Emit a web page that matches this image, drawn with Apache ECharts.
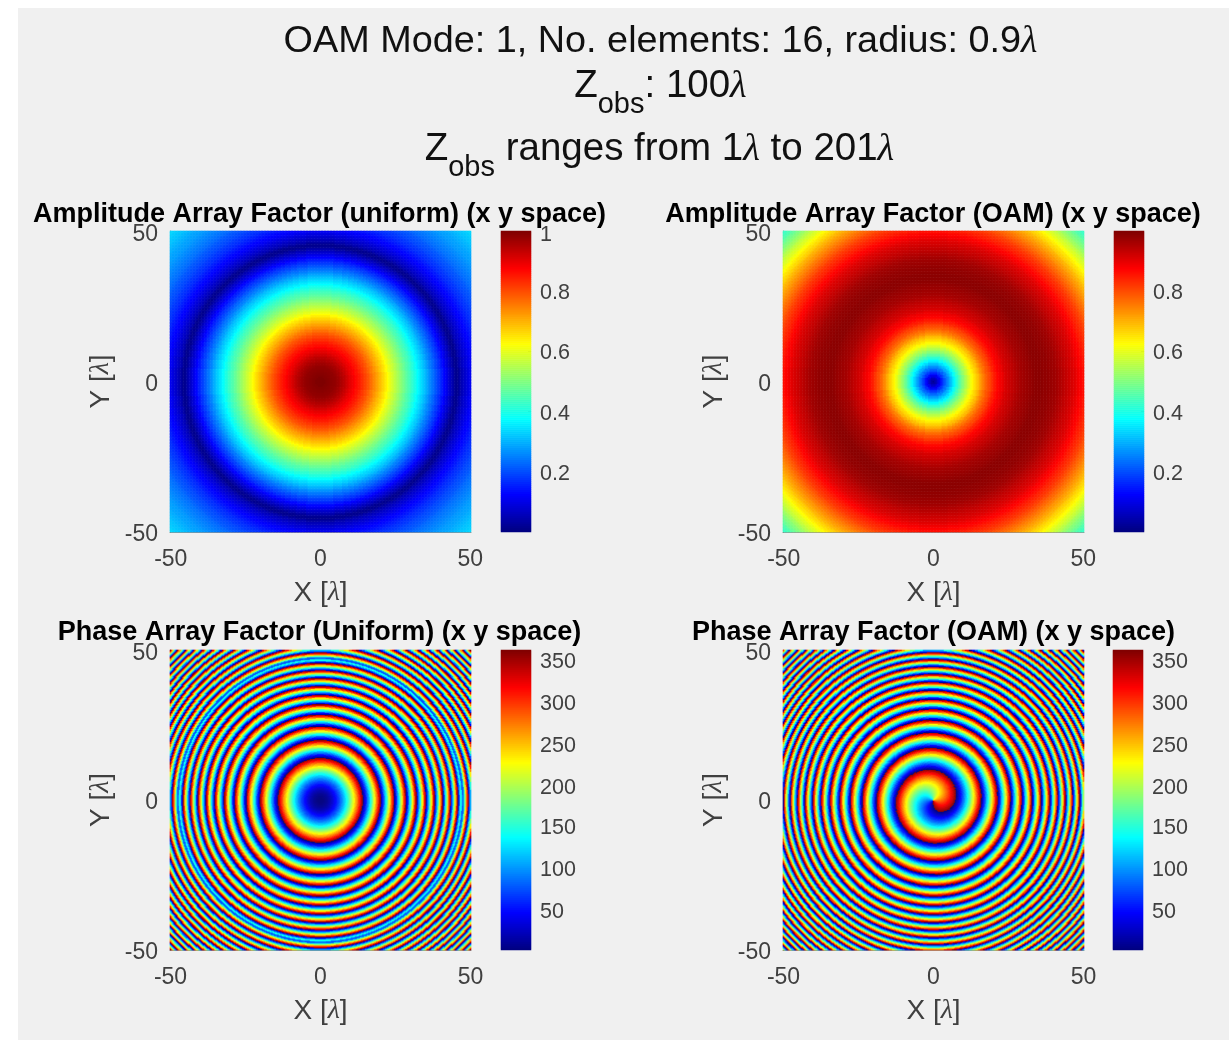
<!DOCTYPE html>
<html><head><meta charset="utf-8">
<style>html,body{margin:0;padding:0;background:#fff}#c{width:1229px;height:1040px;filter:blur(0.6px)}</style>
<script src="https://cdn.jsdelivr.net/npm/echarts@6/dist/echarts.min.js"></script></head>
<body><div id="c"></div>
<script>
// Amplitude estimated from the colours along a radius, one entry per half lambda, r = 0..71
const ampUniform=[1,1,1,1,.995,.993,.99,.988,.985,.983,
.98,.975,.97,.963,.955,.948,.94,.93,.92,.91,
.9,.893,.885,.875,.865,.858,.85,.84,.83,.82,
.81,.8,.79,.778,.765,.753,.74,.728,.715,.703,
.69,.678,.665,.653,.64,.625,.61,.598,.585,.573,
.56,.548,.535,.523,.51,.498,.485,.473,.46,.45,
.44,.428,.415,.403,.39,.375,.36,.348,.335,.323,
.31,.295,.28,.265,.25,.238,.225,.21,.195,.183,
.17,.155,.14,.125,.11,.095,.08,.065,.05,.035,
.02,.015,.02,.035,.05,.06,.07,.08,.09,.1,
.11,.118,.125,.133,.14,.148,.155,.163,.17,.175,
.18,.188,.195,.2,.205,.21,.215,.223,.23,.235,
.24,.245,.25,.255,.26,.265,.27,.275,.28,.283,
.285,.29,.295,.3,.305,.31,.315,.318,.32,.325,
.33,.335,.34];
const ampOam=[.02,.04,.06,.085,.11,.14,.17,.195,.22,.245,
.27,.295,.32,.345,.37,.395,.42,.445,.47,.49,
.51,.53,.55,.57,.59,.61,.63,.645,.66,.675,
.69,.71,.73,.745,.76,.775,.79,.8,.81,.825,
.84,.85,.86,.87,.88,.885,.89,.9,.91,.915,
.92,.925,.93,.935,.94,.945,.95,.955,.96,.963,
.965,.968,.97,.973,.975,.978,.98,.983,.985,.985,
.985,.985,.985,.983,.98,.98,.98,.978,.975,.973,
.97,.968,.965,.96,.955,.95,.945,.94,.935,.93,
.925,.92,.915,.91,.905,.898,.89,.883,.875,.868,
.86,.853,.845,.838,.83,.823,.815,.805,.795,.785,
.775,.765,.755,.745,.735,.725,.715,.705,.695,.683,
.67,.66,.65,.638,.625,.613,.6,.59,.58,.568,
.555,.543,.53,.518,.505,.495,.485,.473,.46,.45,
.44,.43,.42];
// Phase in degrees, one entry per quarter lambda. Shared part r = 0..46.75 (ring spacing checked against the picture)
const phaseInner=[0,0,0,1,2,3,4,6,7,9,11,14,16,19,22,25,29,33,36,41,45,50,54,60,65,70,76,82,88,95,101,108,115,122,130,138,146,154,162,171,180,189,198,208,217,227,237,248,258,269,280,291,303,315,327,339,351,4,17,30,43,56,70,84,98,112,127,142,157,172,187,203,219,235,251,267,284,301,318,335,353,11,29,47,65,84,103,122,141,160,180,200,220,240,261,281,302,323,345,6,28,50,72,94,117,140,163,186,209,233,257,281,305,329,354,18,43,68,94,119,145,171,197,223,250,277,304,331,358,26,54,82,110,138,166,195,224,253,282,311,341,11,41,71,102,132,163,194,225,256,288,320,352,24,56,88,121,154,187,220,253,286,320,354,28,62,97,131,166,201,236,271,307,343,19,55,91,127,164,200,237,274,311,349,26,64,102,140];
// r = 47..71: the uniform map has a thin blue ring near 47 lambda and its rings are half a period out beyond it
const phaseOuterUniform=[140,90,75,90,152,191,230,270,309,349,28,68,109,149,190,231,272,313,354,35,76,118,160,202,244,286,328,11,54,96,139,183,226,269,313,357,41,85,129,173,218,262,307,352,37,82,128,173,219,265,311,357,43,89,136,183,229,276,323,10,58,105,153,201,249,297,345,33,82,130,179,228,277,326,15,64,114,164,213,263,313,3,54,104,155,205,256,307,358,49,101,152,204,255,307,359,51];
const phaseOuterOam=[178,216,254,293,332,11,50,90,129,169,208,248,289,329,10,51,92,133,174,215,256,298,340,22,64,106,148,191,234,276,319,3,46,89,133,177,221,265,309,353,38,82,127,172,217,262,308,353,39,85,131,177,223,269,316,3,49,96,143,190,238,285,333,21,69,117,165,213,262,310,359,48,97,146,195,244,294,344,33,83,133,183,234,284,335,25,76,127,178,229,281,332,24,75,127,179,231];
const spiralOffsetDeg=-95;
const axisTicks=[-50,0,50];
const cbAmpTicksA=[.2,.4,.6,.8,1], cbAmpTicksB=[.2,.4,.6,.8], cbPhaseTicks=[50,100,150,200,250,300,350];
const titles=['Amplitude Array Factor (uniform) (x y space)','Amplitude Array Factor (OAM) (x y space)','Phase Array Factor (Uniform) (x y space)','Phase Array Factor (OAM) (x y space)'];
const jet=['#00007f','#0000ff','#007fff','#00ffff','#7fff7f','#ffff00','#ff7f00','#ff0000','#7f0000'];

function field(n,fn){const d=[];for(let j=0;j<n;j++)for(let i=0;i<n;i++){const x=-50+100*i/(n-1),y=-50+100*j/(n-1);d.push([i,j,fn(x,y)]);}return d;}
const A=201,P=301;
const near=(arr,r,per)=>arr[Math.min(arr.length-1,Math.round(r*per))];
const phaseUniform=phaseInner.concat(phaseOuterUniform), phaseOam=phaseInner.concat(phaseOuterOam);
const fields=[
 field(A,(x,y)=>near(ampUniform,Math.hypot(x,y),2)),
 field(A,(x,y)=>near(ampOam,Math.hypot(x,y),2)),
 field(P,(x,y)=>near(phaseUniform,Math.hypot(x,y),4)),
 field(P,(x,y)=>{let v=near(phaseOam,Math.hypot(x,y),4)+spiralOffsetDeg-Math.atan2(y,x)*180/Math.PI;v%=360;return v<0?v+360:v;})
];
const ranges=[[0,1],[0,.998],[1,361],[1,361]];
const cbTicks=[cbAmpTicksA,cbAmpTicksB,cbPhaseTicks,cbPhaseTicks];
const pos=[[170,231,301,301,501,30],[783,231,301,301,1114,30],[170,650,301,300,501,30],[783,650,301,300,1113,30]];
const titleX=[319.5,933,319.5,933.5],titleY=[201,201,619,619];
const grid=[],xAxis=[],yAxis=[],series=[],visualMap=[],title=[];
const axisFont='"Liberation Sans",Arial,sans-serif';
const gray='#404040';
const lam={fontFamily:'"Liberation Serif",serif',fontStyle:'italic'};
pos.forEach((p,k)=>{
 const n=k<2?A:P, cats=Array.from({length:n},(_,i)=>String(Math.round((-50+100*i/(n-1))*10)/10));
 const ix=(i,v)=>axisTicks.includes(Number(v));
 grid.push({left:p[0],top:p[1],width:p[2],height:p[3]});
 const base={type:'category',data:cats,boundaryGap:true,axisLine:{show:true,lineStyle:{color:'#555',width:1,opacity:.6}},axisTick:{show:false},splitLine:{show:false},
   axisLabel:{interval:ix,color:gray,fontSize:23,fontFamily:axisFont,margin:16,hideOverlap:false,showMinLabel:true,showMaxLabel:true},nameLocation:'middle'};
 const nameRich={l:Object.assign({fontSize:28,color:gray},lam),t:{fontSize:28,color:gray,fontFamily:axisFont}};
 xAxis.push(Object.assign({},base,{gridIndex:2*k,name:'{t|X [}{l|λ}{t|]}',nameGap:47,nameTextStyle:{rich:nameRich}}));
 yAxis.push(Object.assign({},base,{gridIndex:2*k,name:'{t|Y [}{l|λ}{t|]}',nameGap:55,nameRotate:90,nameTextStyle:{rich:nameRich},axisLabel:Object.assign({},base.axisLabel,{margin:12,verticalAlign:'top',lineHeight:6})}));
 series.push({type:'heatmap',xAxisIndex:2*k,yAxisIndex:2*k,data:fields[k],silent:true,progressive:0,animation:false,emphasis:{disabled:true}});
 visualMap.push({show:false,seriesIndex:2*k,min:ranges[k][0],max:ranges[k][1],dimension:2,inRange:{color:jet}});
 const N=150, vals=Array.from({length:N},(_,i)=>ranges[k][0]+(ranges[k][1]-ranges[k][0])*(i+.5)/N);
 const labelFor=new Map(cbTicks[k].map(t=>[Math.min(N-1,Math.round((t-ranges[k][0])/(ranges[k][1]-ranges[k][0])*N-.5)),t]));
 grid.push({left:p[4],top:p[1],width:p[5],height:p[3]});
 xAxis.push({type:'category',gridIndex:2*k+1,data:['c'],show:false});
 yAxis.push({type:'category',gridIndex:2*k+1,data:vals.map((v,i)=>String(i)),position:'right',
   axisLine:{show:false},splitLine:{show:false},
   axisTick:{show:true,inside:true,length:3,interval:(i)=>labelFor.has(i),lineStyle:{color:'#333'}},
   axisLabel:{interval:(i)=>labelFor.has(i),formatter:(v)=>{const t=labelFor.get(Number(v));return t===undefined?'':String(t);},color:gray,fontSize:21.5,fontFamily:axisFont,margin:9,verticalAlign:'top',lineHeight:6,hideOverlap:false}});
 series.push({type:'heatmap',xAxisIndex:2*k+1,yAxisIndex:2*k+1,data:vals.map((v,i)=>[0,i,v]),silent:true,progressive:0,animation:false,emphasis:{disabled:true},itemStyle:{borderWidth:0}});
 visualMap.push({show:false,seriesIndex:2*k+1,min:ranges[k][0],max:ranges[k][1],dimension:2,inRange:{color:jet}});
 title.push({text:titles[k],left:titleX[k],top:titleY[k],padding:0,textAlign:'center',textStyle:{fontFamily:axisFont,fontWeight:'bold',fontSize:27,color:'#000'}});
});
const sup={fontFamily:axisFont,fontSize:37.8,fontWeight:'normal',color:'#111'};
const sup2=Object.assign({},sup,{fontSize:38.5});
const rich={m:Object.assign({},sup2,{lineHeight:52,verticalAlign:'top'}),s:Object.assign({},sup2,{fontSize:29,lineHeight:52,verticalAlign:'bottom'}),l:Object.assign({},sup2,lam,{lineHeight:52,verticalAlign:'top'})};
title.push({text:'{m2|OAM Mode: 1, No. elements: 16, radius: 0.9}{l2|λ}',left:660.5,top:23,padding:0,textAlign:'center',textStyle:{rich:{m2:sup,l2:Object.assign({},sup,lam)}}});
title.push({text:'{m|Z}{s|obs}{m|: 100}{l|λ}',left:660.5,top:67,padding:0,textAlign:'center',textStyle:{rich}});
title.push({text:'{m|Z}{s|obs}{m| ranges from 1}{l|λ}{m| to 201}{l|λ}',left:659.5,top:130,padding:0,textAlign:'center',textStyle:{rich}});
const chart=echarts.init(document.getElementById('c'),null,{renderer:'canvas'});
chart.setOption({animation:false,backgroundColor:'#fff',tooltip:{show:false},
 graphic:[{type:'rect',z:-10,silent:true,shape:{x:18,y:8,width:1211,height:1032},style:{fill:'#f0f0f0'}}],
 title,grid,xAxis,yAxis,series,visualMap});
</script></body></html>
